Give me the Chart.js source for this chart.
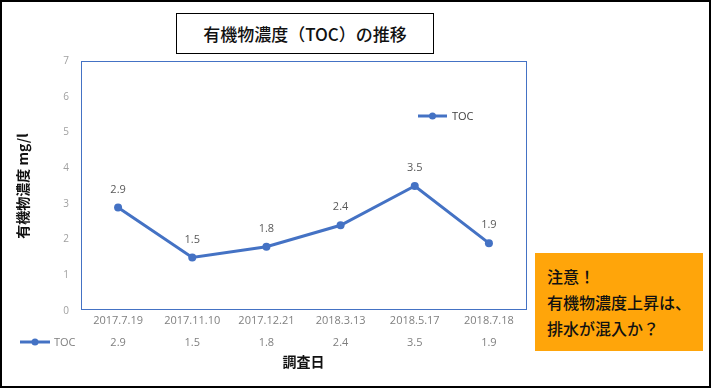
<!DOCTYPE html>
<html><head><meta charset="utf-8">
<script src="https://cdn.jsdelivr.net/npm/chart.js@4.4.1/dist/chart.umd.min.js"></script>
<style>
html,body{margin:0;padding:0;background:#fff;}
#wrap{position:relative;width:712px;height:389px;overflow:hidden;}
#frame{position:absolute;left:0;top:0;width:707px;height:384px;border:2px solid #000;}
#c{position:absolute;left:0;top:0;}
#title{position:absolute;left:176px;top:13px;width:256px;height:39px;border:1.5px solid #000;
 font-family:"Noto Sans CJK JP","Noto Sans",sans-serif;font-size:17px;font-weight:500;color:#111;
 display:flex;align-items:center;justify-content:center;background:#fff;}
#note{position:absolute;left:535px;top:253px;width:168px;height:98px;background:#FFA50A;
 font-family:"Noto Sans CJK JP",sans-serif;font-size:16px;line-height:26px;color:#111;font-weight:500;
 box-sizing:border-box;padding:10px 0 0 12px;white-space:nowrap;}
</style></head>
<body>
<div id="wrap">
<canvas id="c" width="712" height="389"></canvas>
<div id="frame"></div>
<div id="title">有機物濃度（TOC）の推移</div>
<div id="note">注意！<br>有機物濃度上昇は、<br>排水が混入か？</div>
</div>
<script>
const categories = ["2017.7.19","2017.11.10","2017.12.21","2018.3.13","2018.5.17","2018.7.18"];
const tocValues = [2.9, 1.5, 1.8, 2.4, 3.5, 1.9];
const seriesName = "TOC";
const yTicks = [0,1,2,3,4,5,6,7];
const yTitle = "有機物濃度 mg/l";
const xTitle = "調査日";

const BLUE = "#4472C4";
const numFont = '"Open Sans","Noto Sans",sans-serif';

const extras = {
  id: 'extras',
  afterDraw(chart) {
    const ctx = chart.ctx;
    const a = chart.chartArea;
    const xs = chart.scales.x;
    const meta = chart.getDatasetMeta(0);
    ctx.save();
    // plot frame
    ctx.strokeStyle = BLUE; ctx.lineWidth = 1;
    ctx.strokeRect(Math.round(a.left)+0.5, Math.round(a.top)+0.5, Math.round(a.right-a.left), Math.round(a.bottom-a.top)-2);
    // data labels
    ctx.fillStyle = "#595959";
    ctx.font = "11px " + numFont;
    ctx.textAlign = "center"; ctx.textBaseline = "middle";
    meta.data.forEach((p, i) => {
      ctx.fillText(String(tocValues[i]), p.x, p.y - 18);
    });
    // legend inside plot
    const ds = chart.data.datasets[0];
    function sym(x1, x2, y) {
      ctx.strokeStyle = ds.borderColor; ctx.lineWidth = 3;
      ctx.beginPath(); ctx.moveTo(x1, y); ctx.lineTo(x2, y); ctx.stroke();
      ctx.fillStyle = ds.borderColor;
      ctx.beginPath(); ctx.arc((x1+x2)/2, y, 3.5, 0, Math.PI*2); ctx.fill();
    }
    sym(418, 447, 116);
    ctx.fillStyle = "#404040"; ctx.textAlign = "left";
    ctx.font = "11px " + numFont;
    ctx.fillText(seriesName, 452, 116.5);
    // data table row
    sym(20, 50, 342);
    ctx.fillStyle = "#7f7f7f";
    ctx.fillText(seriesName, 54, 342.5);
    ctx.textAlign = "center";
    tocValues.forEach((v, i) => {
      ctx.fillText(String(v), xs.getPixelForValue(i), 342.5);
    });
    ctx.restore();
  }
};

new Chart(document.getElementById('c'), {
  type: 'line',
  data: {
    labels: categories,
    datasets: [{
      label: seriesName,
      data: tocValues,
      borderColor: BLUE,
      backgroundColor: BLUE,
      borderWidth: 3,
      pointRadius: 4,
      pointBackgroundColor: BLUE,
      pointBorderWidth: 0,
      tension: 0
    }]
  },
  options: {
    responsive: false,
    animation: false,
    events: [],
    layout: { padding: { left: 10, top: 61, right: 186, bottom: 15 } },
    plugins: { legend: { display: false }, tooltip: { enabled: false } },
    scales: {
      x: {
        offset: true,
        grid: { display: false, drawTicks: false },
        border: { display: false },
        ticks: { color: "#7f7f7f", font: { family: numFont, size: 11 }, padding: 3, maxRotation: 0, autoSkip: false },
        title: { display: true, text: xTitle, color: "#111", font: { family: '"Noto Sans CJK JP",sans-serif', size: 14, weight: 'bold' }, padding: { top: 0, bottom: 4 } },
        afterFit(s) { s.height = 63; }
      },
      y: {
        min: 0, max: 7,
        afterBuildTicks(s) { s.ticks = yTicks.map(v => ({ value: v })); },
        grid: { display: false, drawTicks: false },
        border: { display: false },
        ticks: { color: "#a0a0a0", font: { family: numFont, size: 10 }, padding: 12 },
        title: { display: true, text: yTitle, color: "#111", font: { family: '"Noto Sans CJK JP",sans-serif', size: 14, weight: 'bold' }, padding: { top: 4, bottom: 0 } },
        afterFit(s) { s.width = 71; }
      }
    }
  },
  plugins: [extras]
});
</script>
</body></html>
